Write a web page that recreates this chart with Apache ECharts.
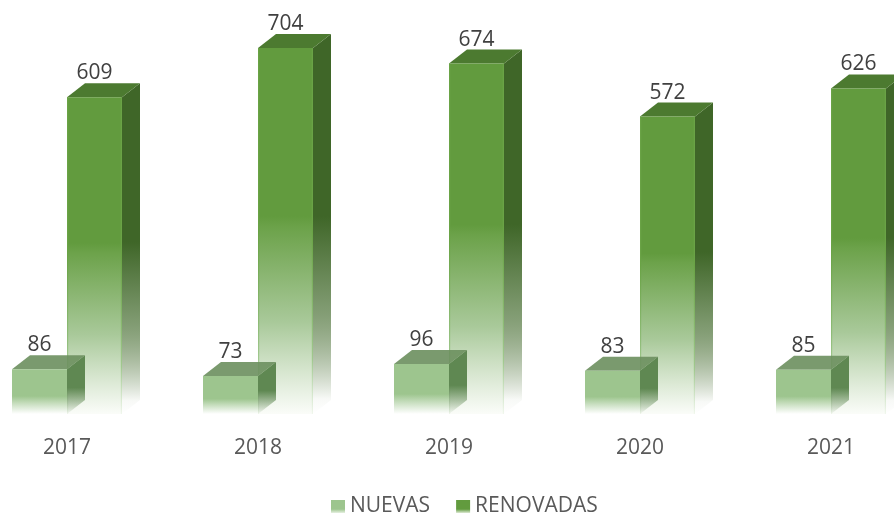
<!DOCTYPE html>
<html><head><meta charset="utf-8">
<style>html,body{margin:0;padding:0;background:#fff}#c{width:894px;height:514px}</style>
<script src="https://cdn.jsdelivr.net/npm/echarts@6/dist/echarts.min.js"></script>
</head><body><div id="c"></div>
<script>
const categories = ['2017','2018','2019','2020','2021'];
const nuevas = [86,73,96,83,85];
const renovadas = [609,704,674,572,626];
const FONT = '"Open Sans", sans-serif';
const TEXT = '#595959';
const LABEL = '#404040';
const grad = (stops) => ({type:'linear',x:0,y:0,x2:0,y2:1,colorStops:stops.map(s=>({offset:s[0],color:s[1]}))});

const palette = {
  NUEVAS: {
    front: grad([[0,'#9DC58E'],[0.6,'#9DC58E'],[1,'rgba(255,255,255,0.95)']]),
    side: grad([[0,'#5F8852'],[0.55,'#5F8852'],[1,'rgba(95,136,82,0.02)']]),
    top: 'rgba(108,143,94,0.9)',
    edge: null
  },
  RENOVADAS: {
    front: grad([[0,'#629B3E'],[0.46,'#629B3E'],[0.49,'#6CA24A'],[0.75,'#A9C99A'],[1,'rgba(250,252,248,0.9)']]),
    side: grad([[0,'#3F6628'],[0.48,'#3F6628'],[0.72,'#7F9A70'],[0.96,'rgba(63,102,40,0.04)'],[1,'rgba(63,102,40,0)']]),
    top: '#4C7A30',
    edge: grad([[0,'#6AA346'],[0.5,'#6AA346'],[0.85,'rgba(150,195,130,0.8)'],[1,'rgba(200,225,190,0.2)']])
  }
};

const BAR_W = 55, DX = 18, DY = 14, LABEL_UP = 24;

function makeRender(name, dir) {
  const p = palette[name];
  return function (params, api) {
    const v = api.value(1);
    const c = api.coord([api.value(0), v]);
    const base = api.coord([api.value(0), 0]);
    const x0 = dir < 0 ? c[0] - BAR_W : c[0];
    const x1 = x0 + BAR_W;
    const yT = c[1], yB = base[1];
    const children = [
      {type:'polygon',shape:{points:[[x1,yT],[x1+DX,yT-DY],[x1+DX,yB-DY],[x1,yB]]},style:{fill:p.side}},
      {type:'polygon',shape:{points:[[x0,yT],[x0+DX,yT-DY],[x1+DX,yT-DY],[x1,yT]]},style:{fill:p.top}},
      {type:'rect',shape:{x:x0,y:yT,width:BAR_W,height:yB-yT},style:{fill:p.front}}
    ];
    if (p.edge) {
      children.push({type:'rect',shape:{x:x0,y:yT,width:1.2,height:yB-yT},style:{fill:p.edge}});
      children.push({type:'rect',shape:{x:x1-1.2,y:yT,width:1.2,height:yB-yT},style:{fill:p.edge}});
    }
    children.push({type:'text',style:{text:String(v),x:(x0+x1)/2,y:yT-LABEL_UP,align:'center',verticalAlign:'middle',
      fill:LABEL,font:'21px '+FONT}});
    return {type:'group',children};
  };
}

const chart = echarts.init(document.getElementById('c'),null,{renderer:'canvas'});
chart.setOption({
  animation:false,
  backgroundColor:'#fff',
  grid:{left:-28.5,top:24,width:955,height:390,containLabel:false,outerBoundsMode:'none'},
  xAxis:{type:'category',data:categories,axisLine:{show:false},axisTick:{show:false},splitLine:{show:false},
    axisLabel:{color:TEXT,fontFamily:FONT,fontSize:21,margin:24,hideOverlap:false}},
  yAxis:{type:'value',min:0,max:750,show:false},
  legend:{left:326,top:491,itemWidth:14,itemHeight:13,itemGap:26,icon:'rect',data:['NUEVAS','RENOVADAS'],
    textStyle:{color:TEXT,fontFamily:FONT,fontSize:21}},
  series:[
    {name:'RENOVADAS',type:'custom',z:2,clip:false,renderItem:makeRender('RENOVADAS',1),
      encode:{x:0,y:1},itemStyle:{color:grad([[0,'#629B3E'],[0.7,'#629B3E'],[1,'#DCE9D3']])},
      data:renovadas.map((v,i)=>[i,v])},
    {name:'NUEVAS',type:'custom',z:3,clip:false,renderItem:makeRender('NUEVAS',-1),
      encode:{x:0,y:1},itemStyle:{color:grad([[0,'#9DC58E'],[0.7,'#9DC58E'],[1,'#E6F0E1']])},
      data:nuevas.map((v,i)=>[i,v])}
  ]
});
</script></body></html>
